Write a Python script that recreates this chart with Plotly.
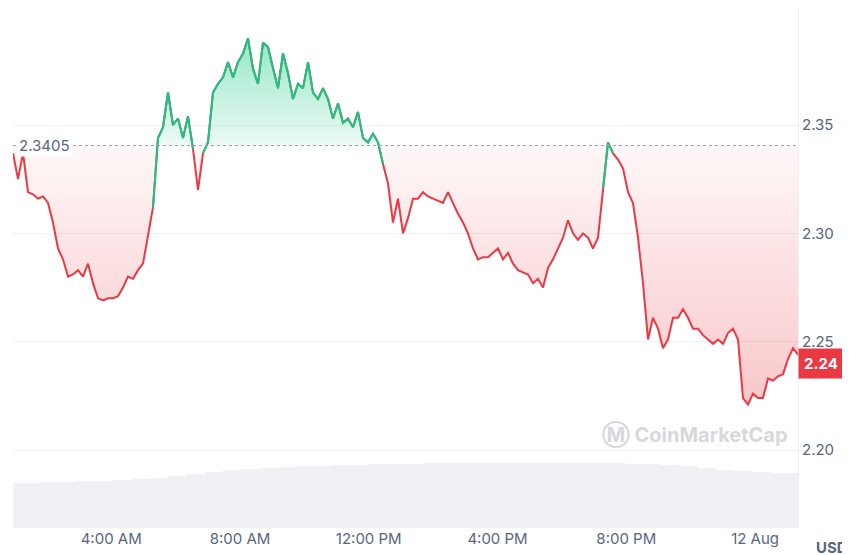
import numpy as np
import pandas as pd
import plotly.graph_objects as go

# price readings, roughly every 9 minutes from 01:00 Aug 11 to ~01:20 Aug 12
prices = [
    2.337, 2.325, 2.337, 2.319, 2.318, 2.316, 2.317, 2.314, 2.305, 2.293,
    2.288, 2.280, 2.281, 2.283, 2.280, 2.286, 2.277, 2.270, 2.269, 2.270,
    2.270, 2.271, 2.275, 2.280, 2.279, 2.283, 2.286, 2.300, 2.312, 2.344,
    2.349, 2.365, 2.350, 2.353, 2.344, 2.354, 2.339, 2.320, 2.337, 2.342,
    2.365, 2.369, 2.372, 2.379, 2.372, 2.379, 2.383, 2.390, 2.376, 2.369,
    2.388, 2.386, 2.376, 2.367, 2.383, 2.374, 2.362, 2.369, 2.367, 2.379,
    2.365, 2.362, 2.367, 2.362, 2.353, 2.360, 2.351, 2.353, 2.349, 2.356,
    2.344, 2.342, 2.346, 2.342, 2.332, 2.323, 2.305, 2.316, 2.300, 2.307,
    2.316, 2.316, 2.319, 2.317, 2.316, 2.315, 2.314, 2.319, 2.314, 2.309,
    2.305, 2.300, 2.293, 2.288, 2.289, 2.289, 2.291, 2.293, 2.288, 2.291,
    2.286, 2.283, 2.282, 2.281, 2.277, 2.279, 2.275, 2.284, 2.288, 2.293,
    2.298, 2.306, 2.300, 2.297, 2.300, 2.298, 2.293, 2.298, 2.321, 2.342,
    2.337, 2.334, 2.330, 2.319, 2.314, 2.298, 2.277, 2.251, 2.261, 2.256,
    2.247, 2.251, 2.261, 2.261, 2.265, 2.261, 2.256, 2.256, 2.253, 2.251,
    2.249, 2.251, 2.249, 2.254, 2.256, 2.251, 2.224, 2.221, 2.226, 2.224,
    2.224, 2.233, 2.232, 2.234, 2.235, 2.242, 2.247, 2.244,
]
volumes = [
    45, 45, 46, 46, 47, 47, 48, 49, 50, 52, 54, 56, 58, 59, 60, 61,
    62, 62, 63, 63, 64, 64, 64, 65, 65, 65, 65, 65, 65, 65, 65, 65,
    65, 65, 64, 64, 63, 62, 60, 58, 57, 56, 55, 55,
]
open_price = 2.3405
last_price = 2.24
tick_vals = ["2024-08-11 04:00", "2024-08-11 08:00", "2024-08-11 12:00",
             "2024-08-11 16:00", "2024-08-11 20:00", "2024-08-12 00:00"]
tick_text = ["4:00 AM", "8:00 AM", "12:00 PM", "4:00 PM", "8:00 PM", "12 Aug"]

RED = "#ea3943"
GREEN = "#16c784"

times = pd.date_range("2024-08-11 00:57", "2024-08-12 01:20", periods=len(prices))
vol_times = pd.date_range("2024-08-11 00:57", "2024-08-12 01:20", periods=len(volumes))
p = np.array(prices)
base = np.full(len(p), open_price)
upper = np.maximum(p, open_price)
lower = np.minimum(p, open_price)

above = p >= open_price
mask = above | np.roll(above, 1) | np.roll(above, -1)
green_line = np.where(mask, p, np.nan)

fig = go.Figure()
fig.add_trace(go.Bar(x=vol_times, y=volumes, yaxis="y2", marker_color="#f0f1f4",
                     marker_line_width=0, width=36 * 60 * 1000 * 0.95))
fig.add_trace(go.Scatter(x=times, y=base, mode="lines", line_width=0))
fig.add_trace(go.Scatter(x=times, y=upper, mode="lines", line_width=0, fill="tonexty",
                         fillgradient=dict(type="vertical",
                                           colorscale=[[0, "rgba(22,199,132,0.08)"], [1, "rgba(22,199,132,0.45)"]])))
fig.add_trace(go.Scatter(x=times, y=base, mode="lines", line_width=0))
fig.add_trace(go.Scatter(x=times, y=lower, mode="lines", line_width=0, fill="tonexty",
                         fillgradient=dict(type="vertical",
                                           colorscale=[[0, "rgba(234,57,67,0.28)"], [1, "rgba(234,57,67,0.04)"]])))
fig.add_trace(go.Scatter(x=times, y=p, mode="lines", line=dict(color=RED, width=2)))
fig.add_trace(go.Scatter(x=times, y=green_line, mode="lines", line=dict(color=GREEN, width=2)))

fig.add_hline(y=open_price, line=dict(color="#9aa0a8", width=1, dash="dot"))
fig.add_annotation(x=0, xref="paper", y=open_price, yref="y", text="2.3405", showarrow=False,
                   xanchor="left", bgcolor="white", font=dict(size=15, color="#58667e"), xshift=4)
fig.add_annotation(x=1, xref="paper", y=last_price, yref="y", text="<b>2.24</b>", showarrow=False,
                   xanchor="left", bgcolor=RED, font=dict(size=15, color="white"),
                   borderpad=5, xshift=0)
fig.add_annotation(x=1, xref="paper", y=0, yref="paper", text="<b>USD</b>", showarrow=False,
                   xanchor="left", yanchor="top", font=dict(size=15, color="#58667e"),
                   xshift=16, yshift=-8)
fig.add_annotation(x=0.99, xref="paper", y=2.2, yref="y", text="<b>Ⓜ CoinMarketCap</b>",
                   showarrow=False, xanchor="right", yanchor="bottom",
                   font=dict(size=20, color="rgba(160,167,178,0.45)"))

fig.update_layout(
    width=850, height=555, margin=dict(l=5, r=60, t=0, b=35, autoexpand=False),
    plot_bgcolor="white", paper_bgcolor="white", showlegend=False,
    font=dict(family="Inter", color="#58667e", size=15),
    bargap=0,
    xaxis=dict(range=[times[0], times[-1]], tickvals=tick_vals, ticktext=tick_text,
               showgrid=False, zeroline=False, ticks="", automargin=False),
    yaxis=dict(side="right", range=[2.164, 2.404], tickvals=[2.20, 2.25, 2.30, 2.35],
               tickformat=".2f", gridcolor="#eef0f3", zeroline=False, automargin=False,
               showline=True, linecolor="#eef0f3", ticks=""),
    yaxis2=dict(overlaying="y", range=[0, 520], visible=False),
)
fig.write_html("out.html")
